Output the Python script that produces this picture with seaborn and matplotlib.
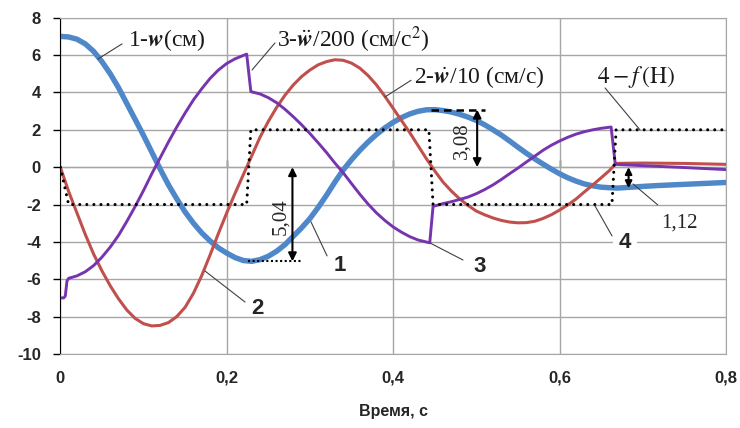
import matplotlib
matplotlib.use('Agg')
import matplotlib.pyplot as plt
import seaborn as sns

sns.set_style('white')
plt.rcParams['mathtext.fontset'] = 'stix'

# 1 - displacement w (cm)
t_w = [0, 0.01, 0.02, 0.03, 0.04, 0.05, 0.06, 0.07, 0.08, 0.09, 0.10, 0.11, 0.12,
       0.13, 0.14, 0.15, 0.16, 0.17, 0.18, 0.19, 0.20, 0.21, 0.22, 0.23, 0.24, 0.25,
       0.26, 0.27, 0.28, 0.29, 0.30, 0.31, 0.32, 0.33, 0.34, 0.35, 0.36, 0.37, 0.38,
       0.39, 0.40, 0.41, 0.42, 0.43, 0.44, 0.45, 0.46, 0.47, 0.48, 0.49, 0.50, 0.51,
       0.52, 0.53, 0.54, 0.55, 0.56, 0.57, 0.58, 0.59, 0.60, 0.61, 0.62, 0.63, 0.64,
       0.65, 0.66, 0.67, 0.68, 0.70, 0.72, 0.74, 0.76, 0.78, 0.80]
w = [7.0, 6.97, 6.85, 6.6, 6.2, 5.65, 5.0, 4.25, 3.4, 2.55, 1.7, 0.8, -0.1,
     -0.95, -1.7, -2.4, -3.0, -3.52, -3.95, -4.32, -4.6, -4.84, -5.0, -5.04, -4.95, -4.77,
     -4.5, -4.15, -3.7, -3.25, -2.75, -2.15, -1.5, -0.8, -0.15, 0.4, 0.9, 1.35, 1.75,
     2.1, 2.4, 2.65, 2.85, 2.99, 3.07, 3.08, 3.03, 2.95, 2.83, 2.68, 2.5, 2.27,
     2.0, 1.72, 1.4, 1.07, 0.75, 0.45, 0.17, -0.1, -0.35, -0.57, -0.75, -0.9, -1.0,
     -1.07, -1.1, -1.12, -1.09, -1.03, -0.98, -0.94, -0.9, -0.86, -0.82]

# 2 - velocity / 10 (cm/s)
t_v = [0, 0.01, 0.02, 0.03, 0.04, 0.05, 0.06, 0.07, 0.08, 0.09, 0.10, 0.11, 0.12,
       0.13, 0.14, 0.15, 0.16, 0.17, 0.18, 0.19, 0.20, 0.21, 0.22, 0.23, 0.24, 0.25,
       0.26, 0.27, 0.28, 0.29, 0.30, 0.31, 0.32, 0.33, 0.34, 0.35, 0.36, 0.37, 0.38,
       0.39, 0.40, 0.41, 0.42, 0.43, 0.44, 0.45, 0.46, 0.47, 0.48, 0.49, 0.50, 0.51,
       0.52, 0.53, 0.54, 0.55, 0.56, 0.57, 0.58, 0.59, 0.60, 0.61, 0.62, 0.63, 0.64,
       0.65, 0.66, 0.668, 0.68, 0.70, 0.75, 0.80]
v = [0, -1.3, -2.45, -3.6, -4.65, -5.55, -6.35, -7.05, -7.65, -8.1, -8.38, -8.5, -8.47,
     -8.32, -8.0, -7.5, -6.75, -5.8, -4.7, -3.55, -2.45, -1.4, -0.4, 0.6, 1.6, 2.45,
     3.2, 3.85, 4.4, 4.85, 5.2, 5.48, 5.65, 5.75, 5.72, 5.57, 5.3, 4.9, 4.4,
     3.8, 3.15, 2.5, 1.85, 1.15, 0.45, -0.2, -0.8, -1.28, -1.7, -2.05, -2.35, -2.55,
     -2.72, -2.85, -2.94, -2.98, -2.97, -2.9, -2.75, -2.55, -2.3, -2.02, -1.7, -1.32, -0.95,
     -0.57, -0.18, 0.2, 0.21, 0.22, 0.2, 0.15]

# 3 - acceleration / 200 (cm/s^2)
t_a = [0, 0.004, 0.006, 0.008, 0.01, 0.02, 0.03, 0.04, 0.05, 0.06, 0.07, 0.08, 0.09,
       0.10, 0.11, 0.12, 0.13, 0.14, 0.15, 0.16, 0.17, 0.18, 0.19, 0.20, 0.21, 0.22,
       0.224, 0.229, 0.23, 0.24, 0.25, 0.26, 0.27, 0.28, 0.29, 0.30, 0.31, 0.32, 0.33,
       0.34, 0.35, 0.36, 0.37, 0.38, 0.39, 0.40, 0.41, 0.42, 0.43, 0.444, 0.448, 0.46,
       0.47, 0.48, 0.49, 0.50, 0.51, 0.52, 0.53, 0.54, 0.55, 0.56, 0.57, 0.58, 0.59,
       0.60, 0.61, 0.62, 0.63, 0.64, 0.65, 0.662, 0.667, 0.70, 0.75, 0.80]
a = [-7.0, -7.0, -6.9, -6.1, -5.95, -5.82, -5.6, -5.27, -4.82, -4.28, -3.65, -2.9, -2.1,
     -1.25, -0.35, 0.5, 1.35, 2.15, 2.9, 3.6, 4.2, 4.75, 5.2, 5.55, 5.8, 5.98,
     6.05, 4.05, 4.03, 3.92, 3.72, 3.45, 3.1, 2.7, 2.27, 1.8, 1.3, 0.78, 0.22,
     -0.3, -0.88, -1.45, -1.98, -2.45, -2.85, -3.2, -3.48, -3.72, -3.9, -4.05, -2.1, -1.95,
     -1.85, -1.73, -1.6, -1.42, -1.2, -0.95, -0.66, -0.35, -0.05, 0.27, 0.58, 0.9, 1.17,
     1.4, 1.6, 1.77, 1.9, 2.0, 2.08, 2.15, 0.15, 0.08, -0.02, -0.13]

# 4 - force f (H)
t_f = [0, 0.01, 0.224, 0.229, 0.443, 0.448, 0.663, 0.668, 0.80]
f = [0, -2, -2, 2, 2, -2, -2, 2, 2]

x_ticks = [0, 0.2, 0.4, 0.6, 0.8]
x_labels = ['0', '0,2', '0,4', '0,6', '0,8']
y_ticks = [8, 6, 4, 2, 0, -2, -4, -6, -8, -10]
y_labels = ['8', '6', '4', '2', '0', '-2', '-4', '-6', '-8', '-10']

# amplitude markers: (time, value, text)
amp_w_min = (0.279, -5.04, '5,04')
amp_w_max = (0.501, 3.08, '3,08')
amp_w_end = (0.683, -1.12, '1,12')

fig, ax = plt.subplots(figsize=(7.4, 4.28), dpi=100)
fig.subplots_adjust(left=0.0815, right=0.981, bottom=0.173, top=0.9586)

grid_c = '#a6a6a6'
sans = 'Liberation Sans'
ax.set_xlim(0, 0.8)
ax.set_ylim(-10, 8)
ax.set_xticks(x_ticks)
ax.set_xticklabels(x_labels)
ax.set_yticks(y_ticks)
ax.set_yticklabels(y_labels)
ax.grid(True, color=grid_c, lw=1)
for s in ['top', 'right', 'bottom']:
    ax.spines[s].set_color(grid_c)
ax.spines['left'].set_color('black')
ax.tick_params(axis='x', length=0, pad=12)
ax.tick_params(axis='y', length=5, width=1, color='black', direction='out', left=True, pad=9)
for lab in ax.get_xticklabels() + ax.get_yticklabels():
    lab.set_fontfamily(sans)
    lab.set_fontweight('bold')
    lab.set_fontsize(12)
ax.set_xlabel('Время, с', fontfamily=sans, fontweight='bold', fontsize=11.5, labelpad=13)

# black axis at y = 0 with tick marks
zero_ax = ax.secondary_xaxis(10 / 18)
zero_ax.set_xticks(x_ticks[1:-1])
zero_ax.set_xticklabels([])
zero_ax.tick_params(length=5, width=1, color='black', direction='out')
zero_ax.spines['bottom'].set_color('black')

line_kw = dict(ax=ax, sort=False, estimator=None, solid_joinstyle='round', solid_capstyle='round')
sns.lineplot(x=t_w, y=w, color='#4F88C8', lw=3.9, **line_kw)
sns.lineplot(x=t_v, y=v, color='#C0504D', lw=2.2, **line_kw)
sns.lineplot(x=t_a, y=a, color='#7635AE', lw=2.1, **line_kw)
sns.lineplot(x=t_f, y=f, ax=ax, color='black', lw=2.2, sort=False, estimator=None,
             linestyle=(0, (0.01, 2.3)), dash_capstyle='round')

# amplitude guides and arrows
t0, val, txt = amp_w_min
ax.plot([0.225, 0.29], [val, val], color='black', lw=1.5, linestyle=(0, (1, 1.2)))
ax.annotate('', xy=(t0, val), xytext=(t0, 0),
            arrowprops=dict(arrowstyle='<|-|>', color='black', lw=1.5,
                            shrinkA=0, shrinkB=0, mutation_scale=12))
ax.text(0.2653, -2.67, txt, rotation=90, ha='center', va='center',
        fontfamily='Liberation Serif', fontsize=15)

t0, val, txt = amp_w_max
ax.plot([0.445, 0.51], [val, val], color='black', lw=1.8, linestyle=(0, (3, 2)))
ax.annotate('', xy=(t0, val), xytext=(t0, 0),
            arrowprops=dict(arrowstyle='<|-|>', color='black', lw=1.5,
                            shrinkA=0, shrinkB=0, mutation_scale=12))
ax.text(0.4828, 1.40, txt, rotation=90, ha='center', va='center',
        fontfamily='Liberation Serif', fontsize=15)

t0, val, txt = amp_w_end
ax.annotate('', xy=(t0, val), xytext=(t0, 0),
            arrowprops=dict(arrowstyle='<|-|>', color='black', lw=1.5,
                            shrinkA=0, shrinkB=0, mutation_scale=10))
ax.annotate(txt, xy=(0.6884, -0.9), xytext=(0.7437, -2.99), ha='center', va='center',
            fontfamily='Liberation Serif', fontsize=15,
            arrowprops=dict(arrowstyle='-', color='#404040', lw=0.8, shrinkA=6, shrinkB=0))

# curve labels
serif = dict(fontfamily='Liberation Serif', fontsize=17, color='#1a1a1a', va='center', ha='left')
lead = dict(arrowstyle='-', color='#404040', lw=0.8, shrinkA=0, shrinkB=0)
ax.text(0.0814, 6.8, r'1-$\mathbfit{w}$(см)', **serif)
ax.annotate('', xy=(0.0453, 5.79), xytext=(0.0742, 6.6), arrowprops=lead)
ax.text(0.2605, 6.8, r'3-$\ddot{\mathbfit{w}}$/200 (см/с$^2$)', **serif)
ax.annotate('', xy=(0.2304, 5.2), xytext=(0.258, 6.65), arrowprops=lead)
ax.text(0.425, 4.83, r'2-$\dot{\mathbfit{w}}$/10 (см/с)', **serif)
ax.annotate('', xy=(0.3903, 3.76), xytext=(0.4215, 4.65), arrowprops=lead)
ax.text(0.645, 4.83, r'$4 - f\,(\mathrm{H})$', **serif)
ax.annotate('', xy=(0.6968, 1.99), xytext=(0.6547, 4.24), arrowprops=lead)

num = dict(fontfamily=sans, fontweight='bold', fontsize=16, ha='center', va='center')
ax.text(0.336, -5.29, '1', **num)
ax.annotate('', xy=(0.3013, -2.93), xytext=(0.3206, -4.75), arrowprops=lead)
ax.text(0.2365, -7.54, '2', **num)
ax.annotate('', xy=(0.1739, -5.56), xytext=(0.2220, -7.22), arrowprops=lead)
ax.text(0.5045, -5.34, '3', **num)
ax.annotate('', xy=(0.4444, -4.06), xytext=(0.4840, -4.97), arrowprops=lead)
ax.text(0.6788, -4.06, '4', bbox=dict(fc='white', ec='none', pad=4), **num)
ax.annotate('', xy=(0.6427, -2.08), xytext=(0.6631, -3.68), arrowprops=lead)

fig.savefig('out.png', dpi=100)
